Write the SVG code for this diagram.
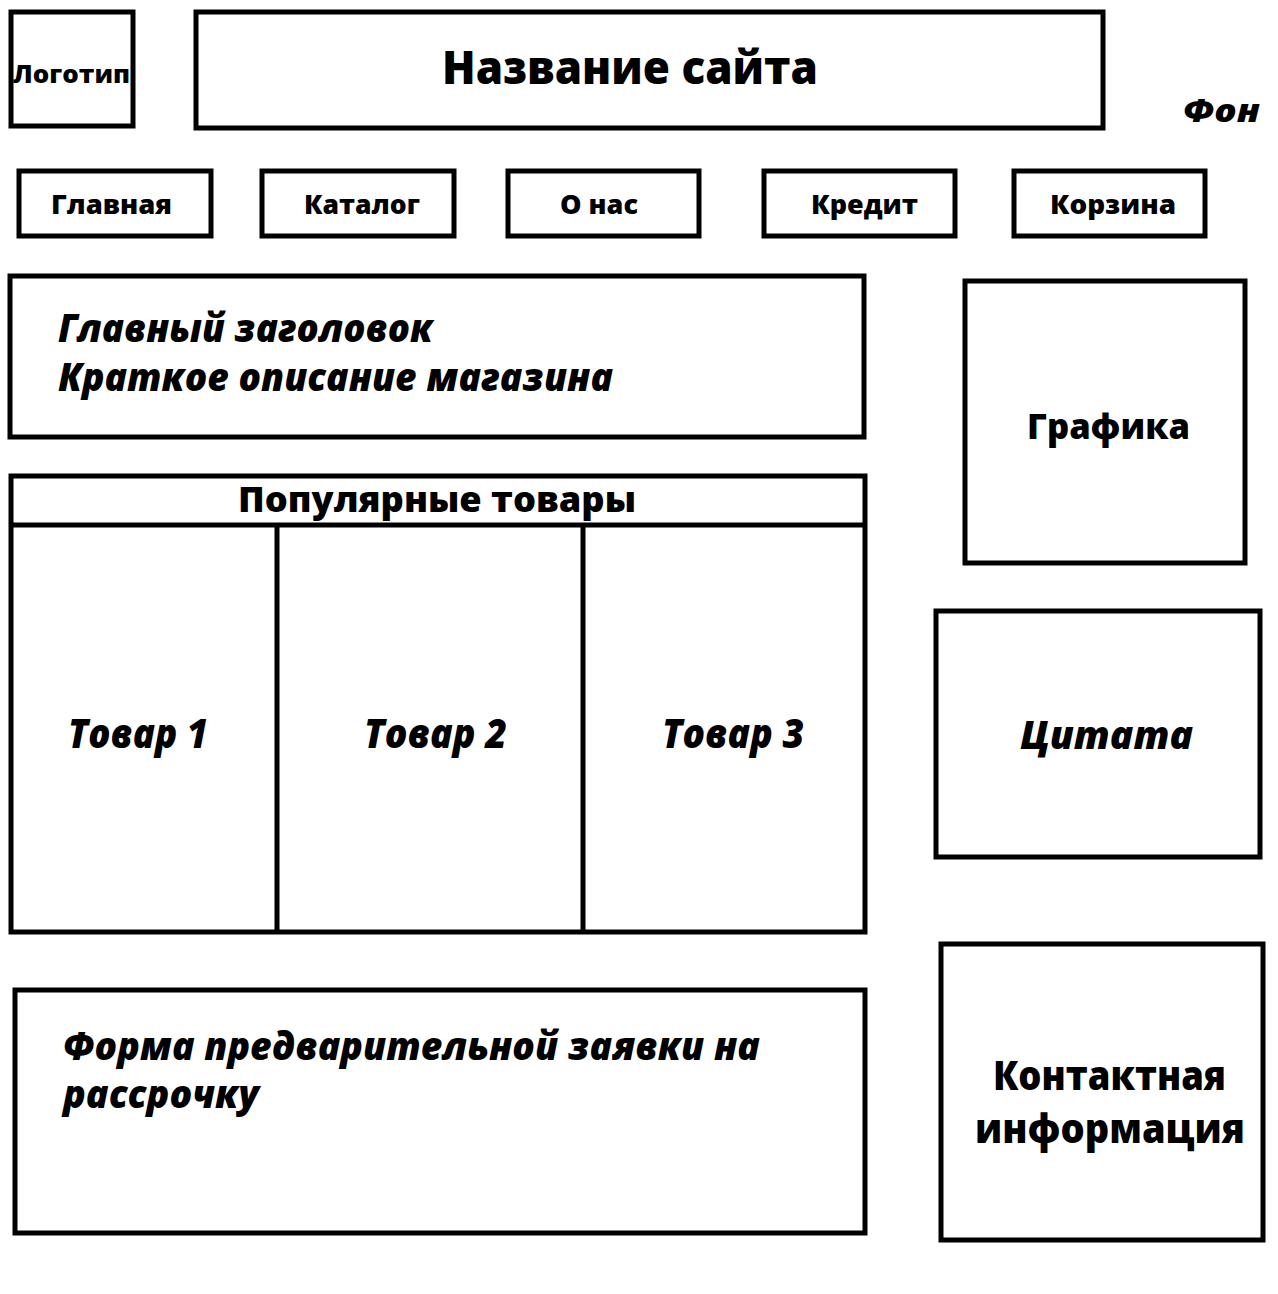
<svg xmlns="http://www.w3.org/2000/svg" width="1278" height="1294" viewBox="0 0 1278 1294">
<style>
.box{fill:#fff;stroke:#000;stroke-width:5}
.ln{stroke:#000;stroke-width:5}
.t{font-family:"Open Sans","Noto Sans",sans-serif;font-weight:800;fill:#000}
.c{text-anchor:middle}
.i{font-style:italic}
</style>
<rect x="0" y="0" width="1278" height="1294" fill="#fff"/>
<g id="logo"><rect class="box" x="11" y="12" width="122" height="114"/><text class="t c" x="71.5" y="83" font-size="24" textLength="117" lengthAdjust="spacingAndGlyphs">Логотип</text></g>
<g id="title"><rect class="box" x="196" y="12" width="907" height="116"/><text class="t c" x="630" y="84" font-size="46" textLength="376" lengthAdjust="spacingAndGlyphs">Название сайта</text></g>
<g id="bg"><text class="t i" x="1183" y="122" font-size="31" textLength="77" lengthAdjust="spacingAndGlyphs">Фон</text></g>
<g id="nav-home"><rect class="box" x="19" y="171" width="192" height="65"/><text class="t c" x="111.5" y="214" font-size="26" textLength="121" lengthAdjust="spacingAndGlyphs">Главная</text></g>
<g id="nav-catalog"><rect class="box" x="262" y="171" width="192" height="65"/><text class="t c" x="362" y="214" font-size="26" textLength="116" lengthAdjust="spacingAndGlyphs">Каталог</text></g>
<g id="nav-about"><rect class="box" x="508" y="171" width="191" height="65"/><text class="t c" x="599" y="214" font-size="26" textLength="78" lengthAdjust="spacingAndGlyphs">О нас</text></g>
<g id="nav-credit"><rect class="box" x="764" y="171" width="191" height="65"/><text class="t c" x="864.5" y="214" font-size="26" textLength="107" lengthAdjust="spacingAndGlyphs">Кредит</text></g>
<g id="nav-cart"><rect class="box" x="1014" y="171" width="191" height="65"/><text class="t c" x="1113" y="214" font-size="26" textLength="126" lengthAdjust="spacingAndGlyphs">Корзина</text></g>
<g id="hero"><rect class="box" x="10" y="276" width="854" height="161"/>
<text class="t i" x="58" y="342" font-size="38" textLength="375" lengthAdjust="spacingAndGlyphs">Главный заголовок</text>
<text class="t i" x="58" y="391" font-size="38" textLength="555" lengthAdjust="spacingAndGlyphs">Краткое описание магазина</text></g>
<g id="graphics"><rect class="box" x="965" y="281" width="280" height="282"/><text class="t c" x="1108.5" y="439" font-size="36" textLength="163" lengthAdjust="spacingAndGlyphs">Графика</text></g>
<g id="popular"><rect class="box" x="11" y="476" width="854" height="456"/>
<text class="t c" x="437" y="512" font-size="36" textLength="398" lengthAdjust="spacingAndGlyphs">Популярные товары</text></g>
<g id="connectors"><line class="ln" x1="11" y1="525" x2="865" y2="525"/><line class="ln" x1="277" y1="525" x2="277" y2="932"/><line class="ln" x1="583" y1="525" x2="583" y2="932"/></g>
<g id="item1"><text class="t c i" x="138" y="748" font-size="40" textLength="140" lengthAdjust="spacingAndGlyphs">Товар 1</text></g>
<g id="item2"><text class="t c i" x="435.5" y="748" font-size="40" textLength="143" lengthAdjust="spacingAndGlyphs">Товар 2</text></g>
<g id="item3"><text class="t c i" x="733" y="748" font-size="40" textLength="142" lengthAdjust="spacingAndGlyphs">Товар 3</text></g>
<g id="quote"><rect class="box" x="936" y="611" width="324" height="246"/><text class="t c i" x="1106.5" y="749" font-size="38" textLength="173" lengthAdjust="spacingAndGlyphs">Цитата</text></g>
<g id="form"><rect class="box" x="15" y="990" width="850" height="243"/>
<text class="t i" x="63" y="1060" font-size="38" textLength="697" lengthAdjust="spacingAndGlyphs">Форма предварительной заявки на</text>
<text class="t i" x="63" y="1108" font-size="38" textLength="196" lengthAdjust="spacingAndGlyphs">рассрочку</text></g>
<g id="contacts"><rect class="box" x="941" y="944" width="322" height="296"/>
<text class="t c" x="1109.5" y="1090" font-size="40" textLength="233" lengthAdjust="spacingAndGlyphs">Контактная</text>
<text class="t c" x="1110" y="1143" font-size="40" textLength="270" lengthAdjust="spacingAndGlyphs">информация</text></g>
</svg>
